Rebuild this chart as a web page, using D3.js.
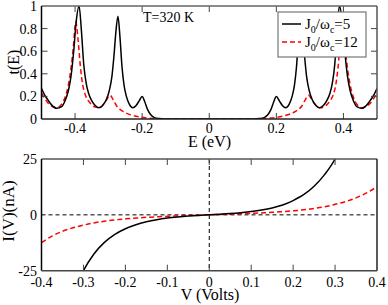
<!DOCTYPE html>
<html><head><meta charset="utf-8">
<script src="https://cdn.jsdelivr.net/npm/d3@7"></script>
<style>body{margin:0;background:#fff} svg{display:block}</style>
</head><body><svg id="c" width="388" height="305"></svg>
<script>
// ---- top panel: transmission t(E) ----
const eBlack = [-0.5,-0.49,-0.48,-0.47,-0.455,-0.44,-0.43,-0.42,-0.412,-0.404,-0.397,-0.388,-0.381,-0.374,-0.367,-0.36,-0.35,-0.34,-0.329,-0.318,-0.307,-0.298,-0.29,-0.284,-0.278,-0.272,-0.266,-0.26,-0.254,-0.247,-0.238,-0.228,-0.218,-0.209,-0.2,-0.192,-0.184,-0.175,-0.165,-0.15,-0.13,0,
  0.13,0.15,0.165,0.175,0.184,0.192,0.2,0.209,0.218,0.228,0.238,0.247,0.254,0.26,0.266,0.272,0.278,0.284,0.29,0.298,0.307,0.318,0.329,0.34,0.35,0.36,0.367,0.374,0.381,0.388,0.397,0.404,0.412,0.42,0.43,0.44,0.455,0.47,0.48,0.49,0.5];
const tBlack = [0.27,0.21,0.165,0.125,0.095,0.11,0.16,0.25,0.38,0.6,0.85,1.0,0.78,0.48,0.32,0.23,0.16,0.12,0.1,0.12,0.17,0.25,0.38,0.56,0.78,0.91,0.72,0.46,0.3,0.2,0.13,0.1,0.12,0.16,0.2,0.15,0.085,0.04,0.015,0.004,0,0,
  0,0.004,0.015,0.04,0.085,0.15,0.2,0.16,0.12,0.1,0.13,0.2,0.3,0.46,0.72,0.91,0.78,0.56,0.38,0.25,0.17,0.12,0.1,0.12,0.16,0.23,0.32,0.48,0.78,1.0,0.85,0.6,0.38,0.25,0.16,0.11,0.095,0.125,0.165,0.21,0.27];
const eRed = [-0.5,-0.49,-0.48,-0.47,-0.455,-0.44,-0.43,-0.42,-0.412,-0.405,-0.398,-0.391,-0.384,-0.377,-0.369,-0.36,-0.35,-0.34,-0.329,-0.318,-0.308,-0.296,-0.286,-0.276,-0.266,-0.256,-0.244,-0.232,-0.218,-0.202,-0.185,-0.17,-0.15,0,
  0.15,0.17,0.185,0.202,0.218,0.232,0.244,0.256,0.266,0.276,0.286,0.296,0.308,0.318,0.329,0.34,0.35,0.36,0.369,0.377,0.384,0.391,0.398,0.405,0.412,0.42,0.43,0.44,0.455,0.47,0.48,0.49,0.5];
const tRed = [0.23,0.18,0.14,0.115,0.1,0.13,0.19,0.3,0.45,0.64,0.86,0.7,0.46,0.3,0.21,0.16,0.125,0.105,0.1,0.12,0.16,0.21,0.17,0.115,0.085,0.065,0.048,0.035,0.024,0.015,0.008,0.004,0,0,
  0,0.004,0.008,0.015,0.024,0.035,0.048,0.065,0.085,0.115,0.17,0.21,0.16,0.12,0.1,0.105,0.125,0.16,0.21,0.3,0.46,0.7,0.86,0.64,0.45,0.3,0.19,0.13,0.1,0.115,0.14,0.18,0.23];
const eTicks = [-0.4,-0.2,0,0.2,0.4];
const tTicks = [0,0.2,0.4,0.6,0.8,1];

// ---- bottom panel: current I(V) ----
const vBlack = [-0.325,-0.3,-0.275,-0.25,-0.225,-0.2,-0.175,-0.15,-0.125,-0.1,-0.075,-0.05,-0.025,0,0.025,0.05,0.075,0.1,0.125,0.15,0.175,0.2,0.225,0.25,0.275,0.3,0.325];
const iBlack = [-36,-25,-17.5,-12.3,-8.7,-6.2,-4.4,-3.1,-2.15,-1.45,-0.95,-0.55,-0.25,0,0.25,0.55,0.95,1.45,2.15,3.1,4.4,6.4,9.0,12.8,18,25,36];
const vRed = [-0.4,-0.375,-0.35,-0.325,-0.3,-0.275,-0.25,-0.225,-0.2,-0.175,-0.15,-0.125,-0.1,-0.075,-0.05,-0.025,0,0.025,0.05,0.075,0.1,0.125,0.15,0.175,0.2,0.225,0.25,0.275,0.3,0.325,0.35,0.375,0.4];
const iRed = [-12.4,-9.5,-7.4,-5.8,-4.6,-3.6,-2.85,-2.25,-1.8,-1.45,-1.12,-0.88,-0.68,-0.48,-0.31,-0.15,0,0.15,0.31,0.48,0.68,0.88,1.12,1.45,1.8,2.25,2.85,3.6,4.7,5.9,7.6,9.8,12.6];
const vTicks = [-0.4,-0.3,-0.2,-0.1,0,0.1,0.2,0.3,0.4];
const iTicks = [-25,0,25];

const seriesNames = ["J0/ωc=5","J0/ωc=12"];

const svg = d3.select("#c");
const FONT = "'Liberation Serif','Times New Roman',serif";
const L = 41.5, R = 377;

function frame(g, x, y, xt, yt, xTickVals, yTickVals, id){
  const [x0,x1] = x.range(), [y0,y1] = [y.range()[0], y.range()[1]];
  // ticks (inward)
  xTickVals.forEach(v=>{
    g.append("line").attr("x1",x(v)).attr("x2",x(v)).attr("y1",y0).attr("y2",y0-6).attr("stroke","#444").attr("stroke-width",1);
    g.append("line").attr("x1",x(v)).attr("x2",x(v)).attr("y1",y1).attr("y2",y1+6).attr("stroke","#444").attr("stroke-width",1);
  });
  yTickVals.forEach(v=>{
    g.append("line").attr("x1",x0).attr("x2",x0+6).attr("y1",y(v)).attr("y2",y(v)).attr("stroke","#444").attr("stroke-width",1);
    g.append("line").attr("x1",x1).attr("x2",x1-6).attr("y1",y(v)).attr("y2",y(v)).attr("stroke","#444").attr("stroke-width",1);
  });
}

// ===== top panel =====
const x1 = d3.scaleLinear().domain([-0.5,0.5]).range([L,R]);
const y1 = d3.scaleLinear().domain([0,1]).range([119,6]);
const gTop = svg.append("g");
svg.append("defs").append("clipPath").attr("id","clipTop").append("rect")
  .attr("x",L).attr("y",6).attr("width",R-L).attr("height",113);
const lineTop = d3.line().x(d=>x1(d[0])).y(d=>y1(d[1])).curve(d3.curveMonotoneX);
gTop.append("path").datum(eRed.map((e,i)=>[e,tRed[i]])).attr("d",lineTop)
  .attr("fill","none").attr("stroke","#ff0000").attr("stroke-width",1.5).attr("stroke-dasharray","5,3").attr("clip-path","url(#clipTop)");
gTop.append("path").datum(eBlack.map((e,i)=>[e,tBlack[i]])).attr("d",lineTop)
  .attr("fill","none").attr("stroke","#000").attr("stroke-width",1.5).attr("clip-path","url(#clipTop)");
frame(gTop, x1, y1, null, null, eTicks, tTicks.filter(v=>v>0&&v<1));
// border
gTop.append("line").attr("x1",L).attr("x2",R).attr("y1",6).attr("y2",6).attr("stroke","#666").attr("stroke-width",1.5);
gTop.append("line").attr("x1",R).attr("x2",R).attr("y1",6).attr("y2",119).attr("stroke","#555").attr("stroke-width",1.5);
gTop.append("line").attr("x1",L).attr("x2",L).attr("y1",6).attr("y2",119).attr("stroke","#000").attr("stroke-width",1.5);
gTop.append("line").attr("x1",L).attr("x2",R).attr("y1",119).attr("y2",119).attr("stroke","#222").attr("stroke-width",1.5);
// tick labels
eTicks.forEach(v=>gTop.append("text").attr("x",x1(v)).attr("y",133).attr("text-anchor","middle")
  .attr("font-family",FONT).attr("font-size",14).text(String(v)));
tTicks.forEach(v=>gTop.append("text").attr("x",37).attr("y",y1(v)+5).attr("text-anchor","end")
  .attr("font-family",FONT).attr("font-size",14).text(String(v)));
gTop.append("text").attr("x",209.5).attr("y",147).attr("text-anchor","middle").attr("font-family",FONT).attr("font-size",16).text("E (eV)");
gTop.append("text").attr("transform","translate(19,62) rotate(-90)").attr("text-anchor","middle").attr("font-family",FONT).attr("font-size",16).text("t(E)");
gTop.append("text").attr("x",143).attr("y",22).attr("font-family",FONT).attr("font-size",14).text("T=320 K");

// legend
const lg = gTop.append("g");
lg.append("rect").attr("x",278).attr("y",12).attr("width",88).attr("height",45).attr("fill","#fff").attr("stroke","#777").attr("stroke-width",1.2);
const legItems = [{name:seriesNames[0],sub:["0","c"],val:"=5",color:"#000",dash:null,y:24},
                  {name:seriesNames[1],sub:["0","c"],val:"=12",color:"#ff0000",dash:"5,3",y:42}];
legItems.forEach(it=>{
  lg.append("line").attr("x1",282).attr("x2",301).attr("y1",it.y).attr("y2",it.y).attr("stroke",it.color).attr("stroke-width",1.5).attr("stroke-dasharray",it.dash);
  const t = lg.append("text").attr("x",305).attr("y",it.y+5).attr("font-family",FONT).attr("font-size",15);
  t.append("tspan").text("J");
  t.append("tspan").attr("font-size",10).attr("dy",4).text(it.sub[0]);
  t.append("tspan").attr("dy",-4).text("/ω");
  t.append("tspan").attr("font-size",10).attr("dy",4).text(it.sub[1]);
  t.append("tspan").attr("dy",-4).text(it.val);
});

// ===== bottom panel =====
const x2 = d3.scaleLinear().domain([-0.4,0.4]).range([L,R]);
const y2 = d3.scaleLinear().domain([-25,25]).range([270.7,159]);
const gBot = svg.append("g");
svg.select("defs").append("clipPath").attr("id","clipBot").append("rect")
  .attr("x",L).attr("y",159).attr("width",R-L).attr("height",111.7);
// zero dashed lines
gBot.append("line").attr("x1",L).attr("x2",R).attr("y1",y2(0)).attr("y2",y2(0)).attr("stroke","#000").attr("stroke-width",1).attr("stroke-dasharray","4,3");
gBot.append("line").attr("x1",x2(0)).attr("x2",x2(0)).attr("y1",159).attr("y2",270.7).attr("stroke","#000").attr("stroke-width",1).attr("stroke-dasharray","4,3");
const lineBot = d3.line().x(d=>x2(d[0])).y(d=>y2(d[1])).curve(d3.curveMonotoneX);
gBot.append("path").datum(vRed.map((v,i)=>[v,iRed[i]])).attr("d",lineBot)
  .attr("fill","none").attr("stroke","#ff0000").attr("stroke-width",1.5).attr("stroke-dasharray","5,3").attr("clip-path","url(#clipBot)");
gBot.append("path").datum(vBlack.map((v,i)=>[v,iBlack[i]])).attr("d",lineBot)
  .attr("fill","none").attr("stroke","#000").attr("stroke-width",1.5).attr("clip-path","url(#clipBot)");
frame(gBot, x2, y2, null, null, vTicks.filter(v=>v>-0.4&&v<0.4), []);
gBot.append("line").attr("x1",L).attr("x2",R).attr("y1",159).attr("y2",159).attr("stroke","#555").attr("stroke-width",1.5);
gBot.append("line").attr("x1",R).attr("x2",R).attr("y1",159).attr("y2",270.7).attr("stroke","#222").attr("stroke-width",1.5);
gBot.append("line").attr("x1",L).attr("x2",L).attr("y1",159).attr("y2",270.7).attr("stroke","#000").attr("stroke-width",1.5);
gBot.append("line").attr("x1",L).attr("x2",R).attr("y1",270.7).attr("y2",270.7).attr("stroke","#444").attr("stroke-width",1.5);
vTicks.forEach(v=>gBot.append("text").attr("x",x2(v)).attr("y",287).attr("text-anchor","middle")
  .attr("font-family",FONT).attr("font-size",14).text(String(v)));
iTicks.forEach(v=>gBot.append("text").attr("x",37).attr("y",y2(v)+5).attr("text-anchor","end")
  .attr("font-family",FONT).attr("font-size",14).text(String(v)));
gBot.append("text").attr("x",210).attr("y",300).attr("text-anchor","middle").attr("font-family",FONT).attr("font-size",16).text("V (Volts)");
gBot.append("text").attr("transform","translate(14,211) rotate(-90)").attr("text-anchor","middle").attr("font-family",FONT).attr("font-size",17).text("I(V)(nA)");
</script></body></html>
